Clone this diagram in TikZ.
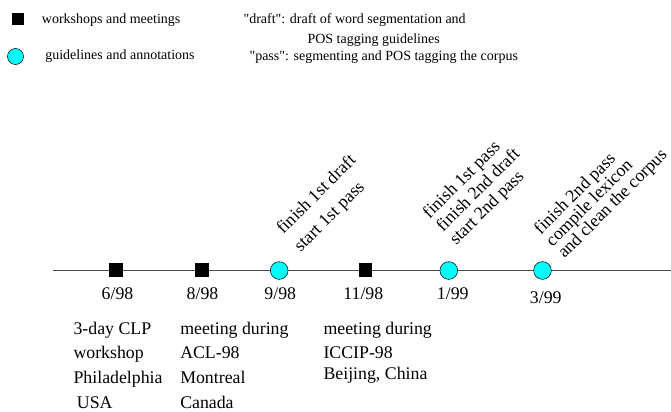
\documentclass[tikz,border=0pt]{standalone}
\usepackage{fontspec}
\setmainfont{Liberation Serif}
\usetikzlibrary{positioning}
\definecolor{guidecyan}{rgb}{0, 1, 1}
\newcommand\PxUnit{0.75pt}
\newcommand\LegendFont{\fontsize{10.5}{12.6}\selectfont}
\newcommand\TimeFont{\fontsize{13.35}{18.5}\selectfont}
\tikzset{
  meeting/.style={
    inner sep = 0pt,
    minimum size = 9.6pt,
    shape = rectangle,
    draw,
    fill = black
  },
  guide/.style={
    inner sep = 0pt,
    minimum size = 13.3pt,
    shape = circle,
    draw,
    fill = guidecyan
  },
  axis/.style={
    line width = 0.7pt,
    black!70
  },
  legend/.style={
    anchor = west,
    inner sep = 0pt,
    font = \LegendFont
  },
  date/.style={
    inner sep = 0pt,
    font = \TimeFont
  },
  place/.style={
    anchor = north west,
    inner sep = 0pt,
    align = left,
    font = \TimeFont
  },
  event/.style={
    anchor = south west,
    inner sep = 0pt,
    align = left,
    rotate = 45
  }
}

\begin{document}
\begin{tikzpicture}[x=\PxUnit, y=-\PxUnit]
\useasboundingbox (0,0) rectangle (671,411);

       % legend
       \node[meeting, minimum size=8.6pt] (keymeet) at (17.5,19) {};
       \node[guide, minimum size=12pt] (keyguide) at (15.5,56.5) {};
       \node[legend] (keymeettext) at (41.7,20) {workshops and meetings};
       \node[legend] (keyguidetext) at (45,55.8) {guidelines and annotations};

       \node[legend] (draftnote) at (243.3,20) {\textquotedbl draft\textquotedbl: draft of word segmentation and};
       \node[legend] (draftnotetwo) at (307.3,40) {POS tagging guidelines};
       \node[legend] (passnote) at (249.3,57) {\textquotedbl pass\textquotedbl: segmenting and POS tagging the corpus};

       % time line
       \coordinate (tlstart) at (53,270);
       \coordinate (tlend) at (671,270);
       \draw[axis] (tlstart) -- (tlend);

       \node[meeting] (jun98) at (116,269.5) {};
       \node[meeting] (aug98) at (201.7,269.5) {};
       \node[guide] (sep98) at (279.2,270.5) {};
       \node[meeting] (nov98) at (365.3,269.5) {};
       \node[guide] (jan99) at (448.8,270.5) {};
       \node[guide] (mar99) at (542.5,270.5) {};

       \node[date] (jun98date) at (117.5,294) {6/98};
       \node[date] (aug98date) at (202.5,294) {8/98};
       \node[date] (sep98date) at (280.3,294) {9/98};
       \node[date] (nov98date) at (363.3,294) {11/98};
       \node[date] (jan99date) at (452.8,293.5) {1/99};
       \node[date] (mar99date) at (545.8,297.5) {3/99};

       % events above the line
       \node[event, font={\fontsize{13.35}{18.6}\selectfont}] (sep98event) at (303.5,255.5)
            {finish 1st draft\\start 1st pass};
       \node[event, font={\fontsize{13.35}{14.1}\selectfont}] (jan99event) at (459,248.8)
            {finish 1st pass\\finish 2nd draft\\start 2nd pass};
       \node[event, font={\fontsize{13.35}{12.6}\selectfont}] (mar99event) at (567.3,262)
            {finish 2nd pass\\compile lexicon\\and clean the corpus};

       % meetings below the line
       \node[place] (jun98place) at (73.3,321.5)
            {3-day CLP\\workshop\\Philadelphia\\\hspace{2.5pt}USA};
       \node[place] (aug98place) at (180,321.5)
            {meeting during\\ACL-98\\Montreal\\Canada};
       \node[place] (nov98place) at (323.3,321.5)
            {meeting during\\ICCIP-98\\[-2.8pt]Beijing, China};
\end{tikzpicture}
\end{document}
